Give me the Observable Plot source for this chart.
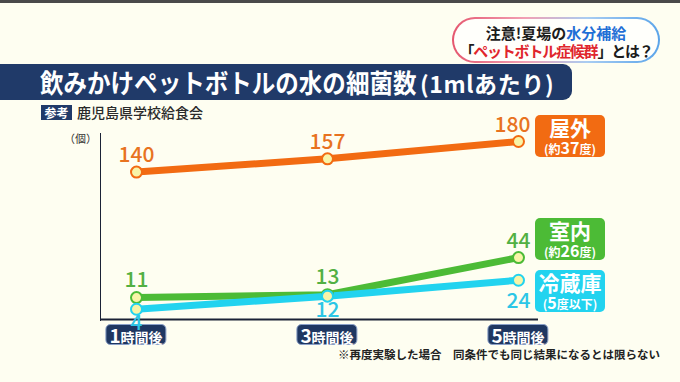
<!DOCTYPE html>
<html><head><meta charset="utf-8">
<script src="https://cdn.jsdelivr.net/npm/d3@7"></script>
<script src="https://cdn.jsdelivr.net/npm/@observablehq/plot@0.6"></script>
<style>
html,body{margin:0;padding:0;background:#fefef1;}
#wrap{position:relative;width:680px;height:382px;overflow:hidden;background:#fefef1;font-family:"Noto Sans CJK JP","Noto Sans",sans-serif;}
#wrap svg{position:absolute;left:0;top:0;background:transparent;z-index:3;pointer-events:none;}
.abs{position:absolute;white-space:nowrap;}
#topline{left:0;top:0;width:680px;height:3px;background:#4a4a4a;}
#pill{left:452px;top:17px;width:204px;height:42px;border:2px solid transparent;border-radius:24px;
 background:linear-gradient(#fffffb,#fffffb) padding-box,linear-gradient(90deg,#e5566e,#f2a0b4 35%,#a9cdf2 65%,#5aa4ea) border-box;}
.pl{position:absolute;left:0;width:100%;text-align:center;font-weight:700;color:#1c1c1c;line-height:1;}
#titlebar{left:0;top:64px;width:572px;height:36px;background:#203a69;border-radius:0 9px 9px 0;}
#title{left:40px;top:64px;height:36px;line-height:36px;color:#fff;font-weight:700;}
#title .m{font-size:26px;display:inline-block;transform:scaleX(0.905);transform-origin:left center;}
#src{left:41px;top:105px;width:31px;height:15px;background:#203a69;color:#fff;font-size:12px;font-weight:700;line-height:15px;text-align:center;}
#srcname{left:77px;top:103px;font-size:14px;color:#2a2a2a;line-height:18px;font-weight:500;}
#unit{left:64px;top:131px;font-size:11px;color:#333;line-height:14px;}
.lg{position:absolute;left:535px;width:70px;height:42px;border-radius:5px;color:#fff;text-align:center;font-weight:700;}
.lg .a{position:absolute;left:0;width:100%;top:1px;font-size:21px;line-height:23px;}
.lg .b{position:absolute;left:0;width:100%;top:25px;font-size:12px;line-height:15px;}
.lg .b big{font-size:16px;}
.xl{position:absolute;top:324px;height:19px;background:#1f3761;border:1px solid #8aa0c8;border-radius:5px;color:#fff;font-weight:700;line-height:19px;padding:0 3px;transform:translateX(-50%);}
.xl .d{font-size:19px;}
.xl .t{font-size:14px;}
#cap{left:338px;top:346px;font-size:11.5px;font-weight:700;color:#222;}
</style></head>
<body><div id="wrap"></div>
<script>
// ---- data ----
const times = ["1時間後", "3時間後", "5時間後"];
const seriesNames = ["屋外", "室内", "冷蔵庫"];
const seriesSub = ["(約37度)", "(約26度)", "(5度以下)"];
const outdoorValues = [140, 157, 180];
const indoorValues = [11, 13, 44];
const fridgeValues = [4, 12, 24];
const colors = ["#f26b12", "#4cbb36", "#22d3ef"];
const labelColors = ["#e8731f", "#52b043", "#2cc6e6"];

const seriesValues = [outdoorValues, indoorValues, fridgeValues];
const rows = [];
seriesNames.forEach((s, si) => times.forEach((t, ti) => rows.push({series: s, time: t, value: seriesValues[si][ti], si, ti})));

// label placement: outdoor & indoor above, fridge below; last point right-aligned to the point
const last = times.length - 1;
const above = d => d.si < 2;
const mk = (filter, opts) => Plot.text(rows, {x: "time", y: "value", text: d => String(d.value), fill: d => labelColors[d.si], filter, fontSize: 21, fontWeight: 500, ...opts});

const chart = Plot.plot({
  width: 680, height: 382,
  marginLeft: 100, marginRight: 142, marginTop: 133, marginBottom: 62,
  style: {background: "transparent", color: "#1b2236", fontFamily: "'Noto Sans CJK JP', sans-serif"},
  x: {type: "point", domain: times, range: [135, 518], padding: 0, axis: null},
  y: {type: "pow", exponent: 0.75, domain: [0, 180], range: [319, 141], axis: "left", ticks: [], line: true, label: null, tickSize: 0},
  color: {domain: seriesNames, range: colors},
  marks: [
    Plot.ruleY([0], {stroke: "#1b2236", strokeWidth: 2}),
    Plot.line(rows, {x: "time", y: "value", z: "series", stroke: "series", strokeWidth: 7, strokeLinecap: "round"}),
    Plot.dot(rows, {x: "time", y: "value", r: 5.5, fill: "#f8f4a8", stroke: "series", strokeWidth: 2}),
    mk(d => above(d) && d.ti < last, {dy: -17}),
    mk(d => above(d) && d.ti === last, {dy: -16, dx: 12, textAnchor: "end"}),
    mk(d => !above(d) && d.ti < last, {dy: 14}),
    mk(d => !above(d) && d.ti === last, {dy: 21, dx: 12, textAnchor: "end"})
  ]
});
chart.querySelectorAll('g[aria-label="y-axis line"] line, g[aria-label="y-axis"] line').forEach(l => {l.setAttribute("stroke-width", 2);});

const wrap = document.getElementById("wrap");
wrap.innerHTML = `
<div class="abs" id="topline"></div>
<div class="abs" id="pill">
  <div class="pl" style="top:6px;font-size:15px;">注意!夏場の<span style="color:#1f6fd6">水分補給</span></div>
  <div class="pl" style="top:24px;font-size:15px;letter-spacing:-1.2px;">「<span style="color:#e0262d">ペットボトル症候群</span>」とは？</div>
</div>
<div class="abs" id="titlebar"></div>
<div class="abs" id="title"><span class="m">飲みかけペットボトルの水の細菌数</span><span style="font-size:23px;margin-left:-36px;letter-spacing:0.6px;">(1mlあたり)</span></div>
<div class="abs" id="src">参考</div>
<div class="abs" id="srcname">鹿児島県学校給食会</div>
<div class="abs" id="unit">（個）</div>
<div class="abs" id="cap">※再度実験した場合　同条件でも同じ結果になるとは限らない</div>`;
wrap.appendChild(chart);

const legendTops = [115, 218, 270];
seriesNames.forEach((s, i) => {
  const d = document.createElement("div");
  d.className = "lg";
  d.style.top = legendTops[i] + "px";
  d.style.background = colors[i];
  const sub = seriesSub[i].replace(/(\d+)/, "<big>$1</big>");
  d.innerHTML = `<div class="a">${s}</div><div class="b">${sub}</div>`;
  wrap.appendChild(d);
});
const xs = chart.scale("x");
times.forEach(t => {
  const d = document.createElement("div");
  d.className = "xl";
  d.style.left = xs.apply(t) + "px";
  d.innerHTML = `<span class="d">${t[0]}</span><span class="t">${t.slice(1)}</span>`;
  wrap.appendChild(d);
});
</script></body></html>
